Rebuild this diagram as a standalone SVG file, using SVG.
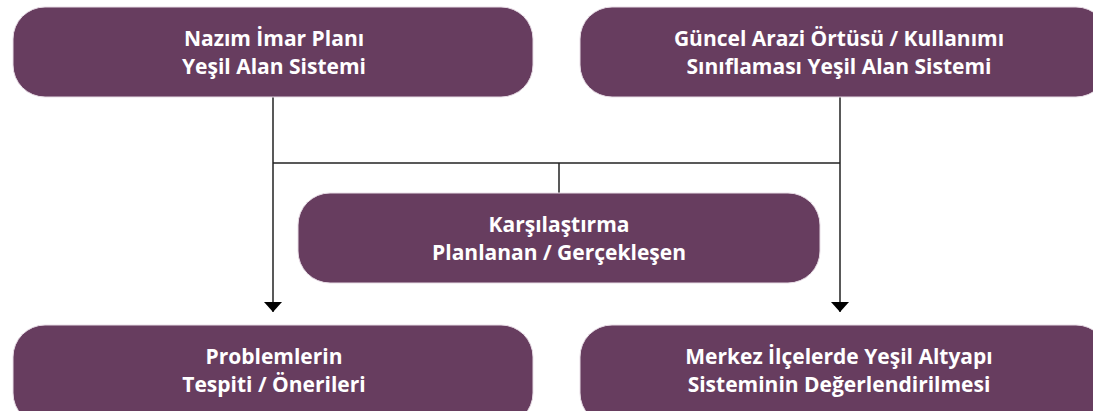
<svg xmlns="http://www.w3.org/2000/svg" width="1093" height="411" viewBox="0 0 1093 411">
<defs>
<style>
.box{fill:#673d5f;stroke:#e8dde6;stroke-width:1}
.t{font-family:"Open Sans","Noto Sans","Liberation Sans",sans-serif;font-weight:700;font-size:21px;fill:#ffffff;text-anchor:middle}
.c{fill:none;stroke:#222;stroke-width:1.5}
</style>
<marker id="ah" markerWidth="10" markerHeight="18" refX="10" refY="9" orient="auto" markerUnits="userSpaceOnUse" viewBox="0 0 10 18">
<path d="M0,0 L10,9 L0,18 Z" fill="#000"/>
</marker>
</defs>
<rect width="1093" height="411" fill="#fff"/>
<g id="connectors">
<path class="c" d="M273,97 V312" marker-end="url(#ah)"/>
<path class="c" d="M840,97 V312" marker-end="url(#ah)"/>
<path class="c" d="M273,163 H840"/>
<path class="c" d="M559,163 V193"/>
</g>
<g id="n1">
<rect class="box" x="13" y="7" width="520" height="90" rx="32"/>
<text class="t" x="274" y="46">Nazım İmar Planı</text>
<text class="t" x="274" y="74">Yeşil Alan Sistemi</text>
</g>
<g id="n2">
<rect class="box" x="580" y="7" width="528" height="90" rx="32"/>
<text class="t" x="839" y="46">Güncel Arazi Örtüsü / Kullanımı</text>
<text class="t" x="839" y="74">Sınıflaması Yeşil Alan Sistemi</text>
</g>
<g id="n3">
<rect class="box" x="298" y="193" width="522" height="90" rx="32"/>
<text class="t" x="559" y="232">Karşılaştırma</text>
<text class="t" x="559" y="260">Planlanan / Gerçekleşen</text>
</g>
<g id="n4">
<rect class="box" x="13" y="325" width="520" height="100" rx="32"/>
<text class="t" x="274" y="364">Problemlerin</text>
<text class="t" x="274" y="392">Tespiti / Önerileri</text>
</g>
<g id="n5">
<rect class="box" x="580" y="325" width="528" height="100" rx="32"/>
<text class="t" x="839" y="364">Merkez İlçelerde Yeşil Altyapı</text>
<text class="t" x="839" y="392">Sisteminin Değerlendirilmesi</text>
</g>
</svg>
